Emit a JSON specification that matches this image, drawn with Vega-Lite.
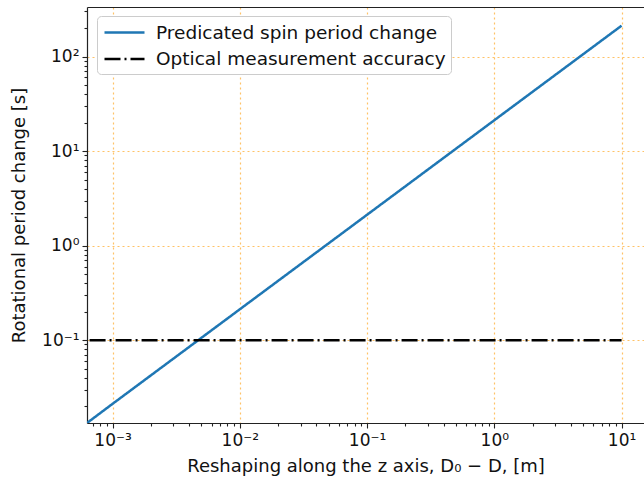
{
  "$schema": "https://vega.github.io/schema/vega-lite/v6.json",
  "width": 557,
  "height": 416,
  "autosize": {"type": "none"},
  "padding": {"left": 87, "top": 7, "right": 0, "bottom": 60},
  "background": "white",
  "config": {
    "view": {"stroke": null},
    "font": "DejaVu Sans",
    "axis": {
      "domainColor": "#222222",
      "domainWidth": 1.2,
      "tickColor": "#222222",
      "tickWidth": 1.1,
      "labelFont": "DejaVu Sans",
      "labelFontSize": 17,
      "labelColor": "#111111",
      "titleFont": "DejaVu Sans",
      "titleFontSize": 18,
      "titleFontWeight": "normal",
      "titleColor": "#111111",
      "gridColor": "#ffc266",
      "gridDash": [2, 3],
      "gridWidth": 1.2
    }
  },
  "data": {
    "values": [
      {"series": "Predicated spin period change", "x": 0.00063, "y": 0.0133},
      {"series": "Predicated spin period change", "x": 0.001, "y": 0.0212},
      {"series": "Predicated spin period change", "x": 0.01, "y": 0.212},
      {"series": "Predicated spin period change", "x": 0.1, "y": 2.12},
      {"series": "Predicated spin period change", "x": 1, "y": 21.2},
      {"series": "Predicated spin period change", "x": 10, "y": 212},
      {"series": "Optical measurement accuracy", "x": 0.00066, "y": 0.1},
      {"series": "Optical measurement accuracy", "x": 10, "y": 0.1}
    ]
  },
  "layer": [
    {
      "mark": {"type": "line", "strokeWidth": 2.5, "clip": true},
      "encoding": {
        "x": {
          "field": "x",
          "type": "quantitative",
          "scale": {"type": "log", "domain": [0.00063, 15], "nice": false},
          "axis": {
            "title": "Reshaping along the z axis, D₀ − D, [m]",
            "titlePadding": 9,
            "values": [0.0007, 0.0008, 0.0009, 0.001, 0.002, 0.003, 0.004, 0.005, 0.006, 0.007, 0.008, 0.009, 0.01, 0.02, 0.03, 0.04, 0.05, 0.06, 0.07, 0.08, 0.09, 0.1, 0.2, 0.3, 0.4, 0.5, 0.6, 0.7, 0.8, 0.9, 1, 2, 3, 4, 5, 6, 7, 8, 9, 10],
            "labelExpr": "abs(log(datum.value)/LN10 - round(log(datum.value)/LN10)) < 1e-6 ? (round(log(datum.value)/LN10) == -3 ? '10⁻³' : round(log(datum.value)/LN10) == -2 ? '10⁻²' : round(log(datum.value)/LN10) == -1 ? '10⁻¹' : round(log(datum.value)/LN10) == 0 ? '10⁰' : '10¹') : ''",
            "labelPadding": 4,
            "labelFlush": false,
            "labelOverlap": false,
            "grid": true,
            "gridOpacity": {"condition": {"test": "abs(log(datum.value)/LN10 - round(log(datum.value)/LN10)) < 1e-6", "value": 1}, "value": 0},
            "tickSize": {"condition": {"test": "abs(log(datum.value)/LN10 - round(log(datum.value)/LN10)) < 1e-6", "value": 5}, "value": 3}
          }
        },
        "y": {
          "field": "y",
          "type": "quantitative",
          "scale": {"type": "log", "domain": [0.0133, 334], "nice": false},
          "axis": {
            "title": "Rotational period change [s]",
            "titlePadding": 13,
            "values": [0.02, 0.03, 0.04, 0.05, 0.06, 0.07, 0.08, 0.09, 0.1, 0.2, 0.3, 0.4, 0.5, 0.6, 0.7, 0.8, 0.9, 1, 2, 3, 4, 5, 6, 7, 8, 9, 10, 20, 30, 40, 50, 60, 70, 80, 90, 100, 200, 300],
            "labelExpr": "abs(log(datum.value)/LN10 - round(log(datum.value)/LN10)) < 1e-6 ? (round(log(datum.value)/LN10) == -1 ? '10⁻¹' : round(log(datum.value)/LN10) == 0 ? '10⁰' : round(log(datum.value)/LN10) == 1 ? '10¹' : '10²') : ''",
            "labelPadding": 3,
            "labelOverlap": false,
            "labelFlush": false,
            "grid": true,
            "gridOpacity": {"condition": {"test": "abs(log(datum.value)/LN10 - round(log(datum.value)/LN10)) < 1e-6", "value": 1}, "value": 0},
            "tickSize": {"condition": {"test": "abs(log(datum.value)/LN10 - round(log(datum.value)/LN10)) < 1e-6", "value": 5}, "value": 3}
          }
        },
        "color": {
          "field": "series",
          "type": "nominal",
          "scale": {"domain": ["Predicated spin period change", "Optical measurement accuracy"], "range": ["#1f77b4", "#000000"]},
          "legend": {
            "title": null,
            "orient": "none",
            "legendX": 10,
            "legendY": 9,
            "fillColor": "white",
            "strokeColor": "#cccccc",
            "cornerRadius": 4,
            "padding": 5,
            "symbolType": "M-2,0H2",
            "symbolSize": 400,
            "symbolOffset": 11,
            "symbolStrokeWidth": 2.5,
            "labelFont": "DejaVu Sans",
            "labelFontSize": 18.5,
            "labelColor": "#111111",
            "labelOffset": 20,
            "rowPadding": 5.5,
            "labelLimit": 400
          }
        },
        "strokeDash": {
          "field": "series",
          "type": "nominal",
          "scale": {"domain": ["Predicated spin period change", "Optical measurement accuracy"], "range": [[1, 0], [16, 4, 2, 4]]},
          "legend": null
        }
      }
    },
    {
      "mark": {"type": "point", "opacity": 0},
      "encoding": {
        "x": {
          "field": "x",
          "type": "quantitative",
          "scale": {"type": "log", "domain": [0.00063, 15], "nice": false},
          "axis": {"orient": "top", "title": null, "labels": false, "ticks": false, "grid": false, "domain": true}
        }
      }
    }
  ],
  "resolve": {"axis": {"x": "independent"}}
}
